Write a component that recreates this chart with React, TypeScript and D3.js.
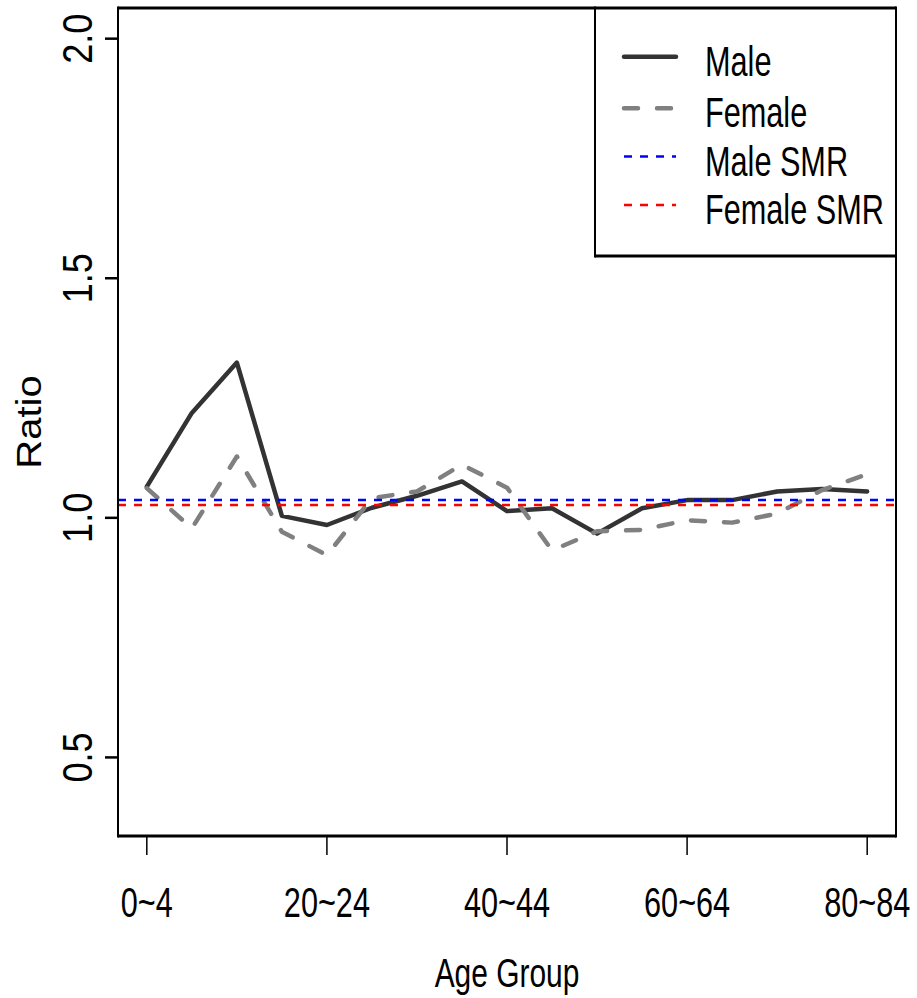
import React from "react";
import * as d3 from "d3";

const ageGroups = ["0~4","5~9","10~14","15~19","20~24","25~29","30~34","35~39","40~44","45~49","50~54","55~59","60~64","65~69","70~74","75~79","80~84"];
const maleRatio = [1.065, 1.219, 1.324, 1.004, 0.985, 1.021, 1.046, 1.076, 1.014, 1.020, 0.967, 1.020, 1.037, 1.037, 1.055, 1.060, 1.055];
const femaleRatio = [1.062, 0.978, 1.128, 0.971, 0.922, 1.041, 1.055, 1.111, 1.063, 0.932, 0.972, 0.975, 0.995, 0.990, 1.009, 1.058, 1.091];
const maleSMR = 1.037;
const femaleSMR = 1.027;
const yTicks = [0.5, 1.0, 1.5, 2.0];
const xTickIdx = [0, 4, 8, 12, 16];
const legendLabels = ["Male", "Female", "Male SMR", "Female SMR"];

const W = 917, H = 998;
const L = 118, R = 896, T = 8, B = 836;
const FONT = "'Liberation Sans', Arial, Helvetica, sans-serif";
const SX = 0.73;

export default function App() {
  const x = d3.scaleLinear().domain([-0.64, 16.64]).range([L, R]);
  const y = d3.scaleLinear().domain([0.336, 2.064]).range([B, T]);
  const line = d3.line<number>().x((_, i) => x(i)).y((d) => y(d));

  const legendRows = [
    { label: legendLabels[0], stroke: "#333333", w: 4.5, dash: undefined, cap: "round" },
    { label: legendLabels[1], stroke: "#808080", w: 4.5, dash: "14,19", cap: "round" },
    { label: legendLabels[2], stroke: "#0000ff", w: 2.5, dash: "8,8", cap: "butt" },
    { label: legendLabels[3], stroke: "#ff0000", w: 2.5, dash: "8,8", cap: "butt" },
  ];
  const legendY = [56.7, 108.3, 156.5, 205];

  return (
    <svg width={W} height={H} style={{ position: "absolute", left: 0, top: 0, background: "#fff" }} fontFamily={FONT}>
      <defs>
        <clipPath id="plotclip">
          <rect x={L} y={T} width={R - L} height={B - T} />
        </clipPath>
      </defs>
      <rect x={0} y={0} width={W} height={H} fill="#fff" />
      <g clipPath="url(#plotclip)">
        <path d={line(maleRatio) || ""} fill="none" stroke="#333333" strokeWidth={4.5} strokeLinejoin="round" strokeLinecap="round" />
        <path d={line(femaleRatio) || ""} fill="none" stroke="#808080" strokeWidth={4.5} strokeDasharray="14,19" strokeLinejoin="round" strokeLinecap="round" />
        <line x1={L} x2={R} y1={y(maleSMR)} y2={y(maleSMR)} stroke="#0000ff" strokeWidth={2.5} strokeDasharray="8,8" />
        <line x1={L} x2={R} y1={y(femaleSMR)} y2={y(femaleSMR)} stroke="#ff0000" strokeWidth={2.5} strokeDasharray="8,8" />
      </g>
      {/* plot box */}
      <line x1={L} x2={L} y1={T - 1.5} y2={B + 1.5} stroke="#000" strokeWidth={2} />
      <line x1={R} x2={R} y1={T - 1.5} y2={B + 1.5} stroke="#000" strokeWidth={2} />
      <line x1={L} x2={R} y1={T} y2={T} stroke="#000" strokeWidth={3} />
      <line x1={L} x2={R} y1={B} y2={B} stroke="#000" strokeWidth={3} />
      {/* y axis */}
      {yTicks.map((t) => (
        <g key={t}>
          <line x1={105} x2={L} y1={y(t)} y2={y(t)} stroke="#000" strokeWidth={2.5} />
          <text transform={`translate(92,${y(t)}) rotate(-90) scale(0.86,1)`} textAnchor="middle" fontSize={42} fill="#000">{t.toFixed(1)}</text>
        </g>
      ))}
      <text transform={`translate(41,${(T + B) / 2}) rotate(-90) scale(1,0.88)`} textAnchor="middle" fontSize={40} fill="#000">Ratio</text>
      {/* x axis */}
      {xTickIdx.map((i) => (
        <g key={i}>
          <line x1={x(i)} x2={x(i)} y1={B} y2={855} stroke="#000" strokeWidth={1.5} />
          <text transform={`translate(${x(i)},917) scale(${SX},1)`} textAnchor="middle" fontSize={42} fill="#000">{ageGroups[i]}</text>
        </g>
      ))}
      <text transform={`translate(${(L + R) / 2},987) scale(${SX},1)`} textAnchor="middle" fontSize={41} fill="#000">Age Group</text>
      {/* legend */}
      <line x1={595} x2={595} y1={T - 1.5} y2={257.5} stroke="#000" strokeWidth={2} />
      <line x1={595} x2={R} y1={256} y2={256} stroke="#000" strokeWidth={3} />
      {legendRows.map((r, k) => (
        <g key={r.label}>
          <line x1={624} x2={676} y1={legendY[k]} y2={legendY[k]} stroke={r.stroke} strokeWidth={r.w} strokeDasharray={r.dash} strokeLinecap={r.cap as any} />
          <text transform={`translate(705,${legendY[k] + 19}) scale(${SX},1)`} fontSize={42} fill="#000">{r.label}</text>
        </g>
      ))}
    </svg>
  );
}
